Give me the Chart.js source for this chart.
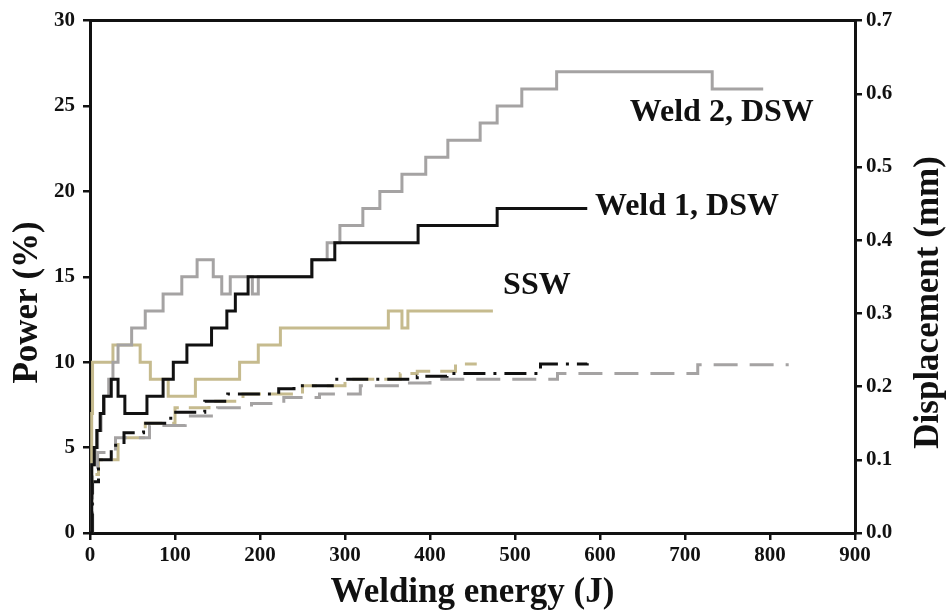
<!DOCTYPE html>
<html>
<head>
<meta charset="utf-8">
<script src="https://cdn.jsdelivr.net/npm/chart.js@4/dist/chart.umd.min.js"></script>
<style>
  body { margin: 0; background: #fff; }
  canvas { display: block; }
</style>
</head>
<body>
<canvas id="weldChart" width="951" height="616"></canvas>
<script>
// power curves (solid, left axis) - energy in J, power in %
const weld1Energy = [0, 2, 5, 8, 12, 16, 25, 33, 41, 67, 86, 98, 114, 143, 161, 171, 186, 261, 288, 386, 479, 585];
const weld1Power  = [0, 4, 5, 6, 7, 8, 9, 8, 7, 8, 9, 10, 11, 12, 13, 14, 15, 16, 17, 18, 19, 19];

const weld2Energy = [0, 2, 6, 9, 13, 17, 22, 27, 33, 49, 65, 86, 108, 126, 145, 155, 165, 191, 198, 261, 279, 294, 321, 341, 367, 395, 421, 459, 479, 508, 549, 732, 792];
const weld2Power  = [0, 4, 5, 6, 7, 8, 9, 10, 11, 12, 13, 14, 15, 16, 15, 14, 15, 14, 15, 16, 17, 18, 19, 20, 21, 22, 23, 24, 25, 26, 27, 26, 26];

const sswEnergy = [0, 1, 2, 3, 27, 59, 71, 92, 124, 176, 198, 224, 351, 367, 374, 474];
const sswPower  = [0, 3, 7, 10, 11, 10, 9, 8, 9, 10, 11, 12, 13, 12, 13, 13];

// displacement curves (dashed, right axis) - mm
const weld1DispEnergy = [0, 3, 10, 25, 40, 63, 95, 135, 162, 222, 240, 285, 385, 420, 530, 585];
const weld1Disp       = [0, 0.07, 0.10, 0.12, 0.137, 0.15, 0.165, 0.18, 0.19, 0.197, 0.201, 0.21, 0.214, 0.218, 0.231, 0.232];

const weld2DispEnergy = [0, 3, 9, 30, 70, 112, 150, 190, 228, 270, 318, 365, 400, 550, 715, 822];
const weld2Disp       = [0, 0.08, 0.11, 0.13, 0.147, 0.16, 0.171, 0.177, 0.185, 0.19, 0.201, 0.205, 0.21, 0.218, 0.23, 0.23];

const sswDispEnergy = [0, 2, 10, 33, 65, 100, 140, 180, 250, 300, 365, 385, 430, 455];
const sswDisp       = [0, 0.08, 0.10, 0.13, 0.15, 0.171, 0.18, 0.19, 0.201, 0.21, 0.218, 0.221, 0.231, 0.231];

// curve labels
const labelText   = ['Weld 2, DSW', 'Weld 1, DSW', 'SSW'];
const labelEnergy = [635, 594, 486];
const labelPower  = [24.6, 19.1, 14.5];

const black = '#111111';
const grey = '#a5a3a3';
const tan = '#c6bb8e';
const serif = '"Liberation Serif", "DejaVu Serif", serif';

function toPoints(xs, ys) {
    return xs.map((x, i) => ({ x: x, y: ys[i] }));
}

function lineSet(label, xs, ys, color, axis, dash) {
    return {
        label: label,
        data: toPoints(xs, ys),
        borderColor: color,
        backgroundColor: color,
        borderWidth: 3,
        borderDash: dash,
        stepped: true,
        pointRadius: 0,
        fill: false,
        yAxisID: axis
    };
}

// curve names and the two vertical axis titles (both read bottom to top)
const chartText = {
    id: 'chartText',
    afterDatasetsDraw(chart) {
        const ctx = chart.ctx;
        const x = chart.scales.x;
        const y = chart.scales.y;
        ctx.save();
        ctx.font = 'bold 32px ' + serif;
        ctx.fillStyle = black;
        ctx.textAlign = 'left';
        ctx.textBaseline = 'middle';
        labelText.forEach((t, i) => {
            ctx.fillText(t, x.getPixelForValue(labelEnergy[i]), y.getPixelForValue(labelPower[i]));
        });

        ctx.font = 'bold 35px ' + serif;
        ctx.textAlign = 'center';
        const midY = y.getPixelForValue(13.5);
        ctx.save();
        ctx.translate(28, midY);
        ctx.rotate(-Math.PI / 2);
        ctx.fillText('Power (%)', 0, 0);
        ctx.restore();
        ctx.save();
        ctx.translate(chart.width - 22, midY);
        ctx.rotate(-Math.PI / 2);
        ctx.fillText('Displacement (mm)', 0, 0);
        ctx.restore();
        ctx.restore();
    }
};

const tickFont = { family: serif, size: 21, weight: 'bold' };
const titleFont = { family: serif, size: 35, weight: 'bold' };
const tickGrid = { display: true, drawOnChartArea: false, drawTicks: true, tickLength: 7, color: black, lineWidth: 2.5 };
const axisBorder = { display: true, color: black, width: 3 };

new Chart(document.getElementById('weldChart'), {
    type: 'line',
    data: {
        datasets: [
            lineSet('Weld 1, DSW', weld1Energy, weld1Power, black, 'y', []),
            lineSet('Weld 2, DSW', weld2Energy, weld2Power, grey, 'y', []),
            lineSet('SSW', sswEnergy, sswPower, tan, 'y', []),
            lineSet('Weld 1 disp', weld1DispEnergy, weld1Disp, black, 'y2', [22, 8, 3, 8]),
            lineSet('Weld 2 disp', weld2DispEnergy, weld2Disp, grey, 'y2', [24, 12]),
            lineSet('SSW disp', sswDispEnergy, sswDisp, tan, 'y2', [22, 10])
        ]
    },
    options: {
        responsive: false,
        maintainAspectRatio: false,
        animation: false,
        layout: { padding: 0 },
        plugins: {
            legend: { display: false },
            tooltip: { enabled: false }
        },
        scales: {
            x: {
                type: 'linear',
                position: 'bottom',
                min: 0,
                max: 900,
                ticks: { stepSize: 100, color: black, font: tickFont, padding: 3, maxRotation: 0 },
                grid: tickGrid,
                border: axisBorder,
                title: { display: true, text: 'Welding energy (J)', color: black, font: titleFont, padding: { top: 4, bottom: 2 } },
                afterFit(scale) { scale.height = 83; }
            },
            xTop: {
                type: 'linear',
                position: 'top',
                min: 0,
                max: 900,
                ticks: { display: false },
                grid: { display: false },
                border: axisBorder,
                afterFit(scale) { scale.height = 17; }
            },
            y: {
                type: 'linear',
                position: 'left',
                min: 0,
                max: 30,
                ticks: { stepSize: 5, color: black, font: tickFont, padding: 8 },
                grid: tickGrid,
                border: axisBorder,
                afterFit(scale) { scale.width = 90; }
            },
            y2: {
                type: 'linear',
                position: 'right',
                min: 0,
                max: 0.7,
                ticks: {
                    stepSize: 0.1,
                    color: black,
                    font: tickFont,
                    padding: 4,
                    callback: v => v.toFixed(1)
                },
                grid: tickGrid,
                border: axisBorder,
                afterFit(scale) { scale.width = 96; }
            }
        }
    },
    plugins: [chartText]
});
</script>
</body>
</html>
